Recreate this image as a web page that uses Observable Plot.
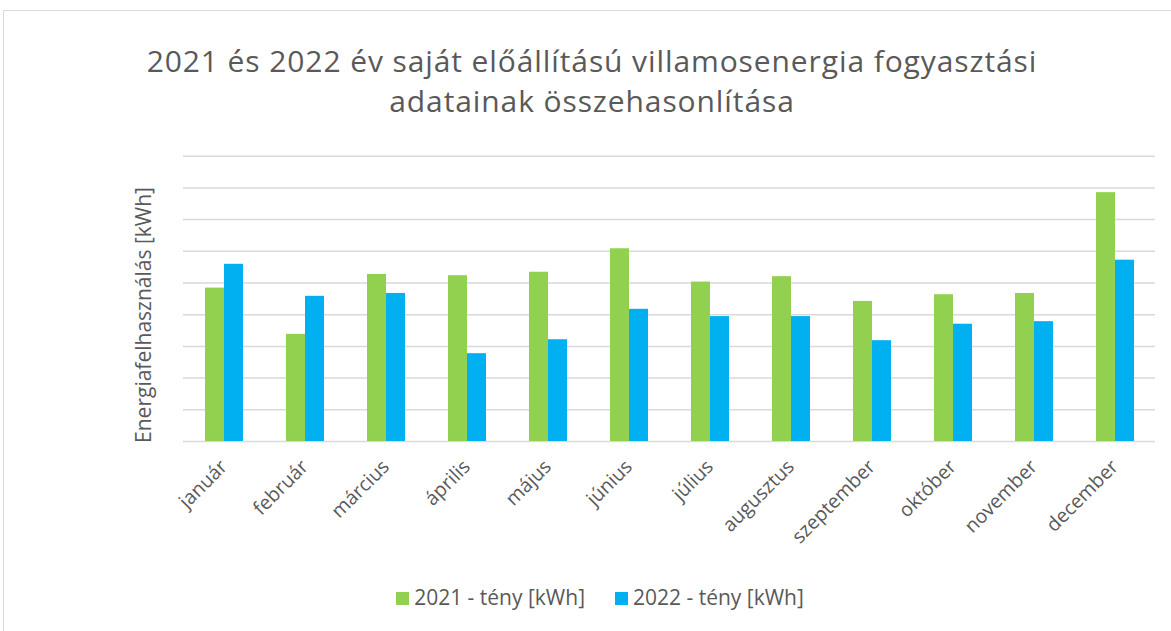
<!DOCTYPE html>
<html>
<head>
<meta charset="utf-8">
<script src="https://cdn.jsdelivr.net/npm/d3@7"></script>
<script src="https://cdn.jsdelivr.net/npm/@observablehq/plot@0.6"></script>
<style>
  html, body { margin: 0; padding: 0; background: #fff; overflow: hidden; }
  body { width: 1171px; height: 631px; position: relative; font-family: "Open Sans", sans-serif; color: #595959; }
  #frame { position: absolute; left: 3px; top: 10px; width: 1200px; height: 700px; border: 1px solid #d9d9d9; box-sizing: border-box; }
  #title { position: absolute; left: 0; width: 1184px; top: 41px; text-align: center; font-size: 30px; letter-spacing: 0.9px; line-height: 40px; color: #595959; }
  #ylabel { position: absolute; left: 143px; top: 315px; transform: translate(-50%, -50%) rotate(-90deg); white-space: nowrap; font-size: 21px; color: #595959; }
  #legend { position: absolute; top: 583px; left: 0; width: 1200px; text-align: center; font-size: 21px; color: #595959; }
  #legend span.item { display: inline-block; margin: 0 15px; }
  #legend span.sw { display: inline-block; width: 13px; height: 13px; margin-right: 5px; vertical-align: 0px; }
  #chart { position: absolute; left: 0; top: 0; }
</style>
</head>
<body>
<div id="frame"></div>
<div id="chart"></div>
<div id="title">2021 és 2022 év saját előállítású villamosenergia fogyasztási<br>adatainak összehasonlítása</div>
<div id="ylabel">Energiafelhasználás [kWh]</div>
<div id="legend"></div>
<script>
const months = ["január", "február", "március", "április", "május", "június", "július", "augusztus", "szeptember", "október", "november", "december"];
const seriesNames = ["2021 - tény [kWh]", "2022 - tény [kWh]"];
const values2021 = [4.84, 3.38, 5.27, 5.23, 5.34, 6.08, 5.03, 5.20, 4.42, 4.63, 4.67, 7.85];
const values2022 = [5.59, 4.58, 4.67, 2.77, 3.21, 4.17, 3.94, 3.94, 3.18, 3.70, 3.78, 5.72];
const gridValues = [0, 1, 2, 3, 4, 5, 6, 7, 8, 9];
const colors = ["#92d050", "#00b0f0"];

const table = [];
months.forEach((m, i) => {
  table.push({month: m, series: seriesNames[0], value: values2021[i]});
  table.push({month: m, series: seriesNames[1], value: values2022[i]});
});

const plot = Plot.plot({
  width: 1171,
  height: 631,
  marginLeft: 182,
  marginRight: 16,
  marginTop: 155.7,
  marginBottom: 190,
  style: {fontFamily: "Open Sans, sans-serif", fontSize: "19.5px", color: "#595959", background: "transparent"},
  fx: {domain: months, padding: 0, axis: "bottom", label: null, tickRotate: -45, tickSize: 0, tickPadding: 22},
  x: {domain: seriesNames, paddingInner: 0, paddingOuter: 1.1, axis: null},
  y: {domain: [0, 9], axis: null},
  color: {domain: seriesNames, range: colors},
  marks: [
    Plot.ruleY(gridValues, {stroke: "#d9d9d9", strokeWidth: 1.5}),
    Plot.barY(table, {fx: "month", x: "series", y: "value", fill: "series"})
  ]
});
document.getElementById("chart").appendChild(plot);

const legend = document.getElementById("legend");
seriesNames.forEach((s, i) => {
  const item = document.createElement("span");
  item.className = "item";
  const sw = document.createElement("span");
  sw.className = "sw";
  sw.style.background = colors[i];
  item.appendChild(sw);
  item.appendChild(document.createTextNode(s));
  legend.appendChild(item);
});
</script>
</body>
</html>
